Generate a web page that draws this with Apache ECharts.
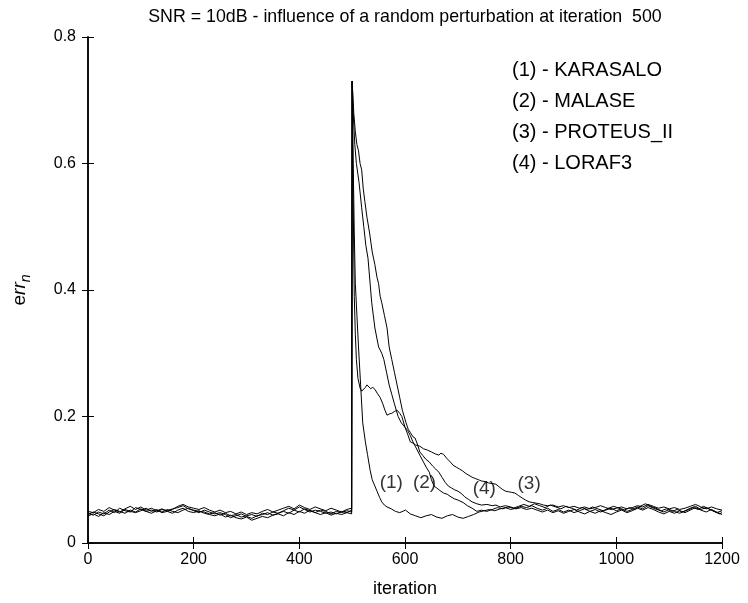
<!DOCTYPE html>
<html>
<head>
<meta charset="utf-8">
<script src="https://cdn.jsdelivr.net/npm/echarts@6/dist/echarts.min.js"></script>
<style>html,body{margin:0;padding:0;background:#fff}#c{width:748px;height:603px}</style>
</head>
<body>
<div id="c"></div>
<script>
const titleText = 'SNR = 10dB - influence of a random perturbation at iteration  500';
const seriesNames = ['(1) - KARASALO', '(2) - MALASE', '(3) - PROTEUS_II', '(4) - LORAF3'];
const xTicks = [0, 200, 400, 600, 800, 1000, 1200];
const yTicks = [0, 0.2, 0.4, 0.6, 0.8];

const baseIter = [0,10,20,30,40,50,60,70,80,90,100,110,120,130,140,150,160,170,180,190,200,210,220,230,240,250,260,270,280,290,300,310,320,330,340,350,360,370,380,390,400,410,420,430,440,450,460,470,480,490,499];

const karasaloBase = [0.047,0.044,0.049,0.046,0.052,0.048,0.055,0.051,0.049,0.056,0.053,0.05,0.052,0.049,0.053,0.051,0.054,0.056,0.059,0.054,0.052,0.05,0.049,0.046,0.048,0.044,0.047,0.043,0.045,0.041,0.043,0.045,0.042,0.047,0.045,0.049,0.047,0.051,0.055,0.052,0.057,0.053,0.049,0.052,0.05,0.047,0.049,0.046,0.05,0.048,0.052];
const malaseBase = [0.043,0.046,0.042,0.048,0.045,0.05,0.047,0.053,0.05,0.048,0.051,0.055,0.05,0.053,0.048,0.05,0.047,0.052,0.055,0.05,0.048,0.051,0.047,0.045,0.043,0.046,0.041,0.044,0.04,0.038,0.041,0.036,0.039,0.042,0.04,0.044,0.046,0.043,0.048,0.045,0.05,0.047,0.052,0.048,0.045,0.048,0.044,0.047,0.045,0.048,0.046];
const proteusBase = [0.05,0.048,0.053,0.05,0.056,0.052,0.049,0.054,0.058,0.053,0.057,0.052,0.055,0.051,0.054,0.05,0.053,0.058,0.061,0.057,0.055,0.053,0.056,0.052,0.049,0.052,0.048,0.05,0.046,0.049,0.045,0.048,0.046,0.05,0.053,0.049,0.052,0.055,0.058,0.054,0.06,0.056,0.053,0.057,0.054,0.051,0.055,0.052,0.049,0.053,0.055];
const loraf3Base = [0.045,0.049,0.046,0.043,0.049,0.053,0.05,0.047,0.052,0.049,0.054,0.05,0.047,0.051,0.049,0.053,0.05,0.048,0.052,0.055,0.051,0.048,0.052,0.049,0.046,0.048,0.045,0.04,0.043,0.046,0.042,0.039,0.043,0.045,0.048,0.044,0.047,0.05,0.047,0.052,0.049,0.054,0.051,0.048,0.052,0.05,0.046,0.05,0.048,0.051,0.049];

const karasaloAfter = [[500,0.73],[502,0.6],[504,0.49],[506,0.41],[509,0.36],[512,0.31],[516,0.25],[520,0.19],[525,0.16],[529,0.14],[534,0.115],[538,0.1],[543,0.09],[547,0.082],[552,0.072],[556,0.065],[561,0.06],[566,0.057],[574,0.054],[582,0.05],[590,0.048],[601,0.052],[610,0.046],[620,0.043],[630,0.04],[640,0.043],[650,0.045],[660,0.041],[670,0.039],[680,0.043],[690,0.045],[700,0.041],[710,0.039],[720,0.042],[730,0.045],[740,0.049],[750,0.051],[760,0.053],[770,0.051],[780,0.054],[790,0.056],[800,0.053],[810,0.055],[820,0.058],[830,0.056],[840,0.059],[850,0.055],[860,0.052],[870,0.055],[880,0.05],[890,0.053],[900,0.049],[910,0.052],[920,0.048],[930,0.051],[940,0.054],[950,0.05],[960,0.053],[970,0.049],[980,0.052],[990,0.055],[1000,0.051],[1010,0.054],[1020,0.05],[1030,0.053],[1040,0.057],[1050,0.054],[1060,0.059],[1070,0.055],[1080,0.052],[1090,0.049],[1100,0.053],[1110,0.05],[1120,0.047],[1130,0.051],[1140,0.055],[1150,0.058],[1160,0.053],[1170,0.056],[1180,0.052],[1190,0.048],[1200,0.051]];
const malaseAfter = [[500,0.73],[502,0.68],[505,0.63],[508,0.6],[513,0.57],[518,0.53],[522,0.5],[526,0.47],[530,0.45],[532,0.43],[537,0.38],[543,0.34],[550,0.31],[556,0.3],[560,0.29],[565,0.27],[570,0.25],[575,0.235],[580,0.22],[587,0.2],[593,0.19],[600,0.183],[605,0.178],[610,0.17],[615,0.16],[620,0.152],[628,0.139],[635,0.128],[640,0.12],[646,0.112],[650,0.1],[655,0.09],[660,0.087],[666,0.083],[673,0.079],[680,0.077],[687,0.073],[693,0.07],[700,0.068],[710,0.064],[718,0.059],[727,0.055],[736,0.05],[745,0.052],[755,0.05],[765,0.053],[775,0.056],[785,0.054],[795,0.057],[805,0.055],[815,0.058],[825,0.061],[835,0.058],[845,0.062],[855,0.059],[865,0.056],[875,0.06],[885,0.057],[895,0.054],[905,0.058],[915,0.055],[925,0.052],[935,0.056],[945,0.053],[955,0.057],[965,0.054],[975,0.051],[985,0.055],[995,0.058],[1005,0.055],[1015,0.052],[1025,0.056],[1035,0.053],[1045,0.058],[1055,0.062],[1065,0.058],[1075,0.055],[1085,0.051],[1095,0.054],[1105,0.05],[1115,0.053],[1125,0.049],[1135,0.052],[1145,0.056],[1155,0.053],[1165,0.058],[1175,0.054],[1185,0.05],[1195,0.046],[1200,0.048]];
const proteusAfter = [[500,0.73],[501,0.62],[502,0.54],[503,0.46],[504,0.39],[506,0.33],[508,0.29],[511,0.26],[515,0.245],[518,0.24],[521,0.242],[525,0.246],[528,0.25],[531,0.248],[535,0.244],[539,0.246],[543,0.243],[548,0.236],[553,0.23],[558,0.22],[562,0.21],[566,0.202],[570,0.204],[575,0.205],[580,0.208],[585,0.21],[590,0.205],[594,0.2],[600,0.183],[605,0.172],[610,0.16],[615,0.158],[620,0.155],[628,0.153],[635,0.149],[642,0.147],[650,0.144],[657,0.141],[664,0.139],[668,0.142],[673,0.14],[680,0.133],[686,0.128],[691,0.123],[697,0.12],[703,0.117],[709,0.114],[715,0.11],[721,0.107],[727,0.104],[733,0.102],[739,0.1],[745,0.098],[752,0.097],[758,0.095],[765,0.094],[772,0.093],[778,0.089],[784,0.085],[790,0.082],[796,0.081],[802,0.08],[808,0.079],[815,0.075],[822,0.071],[828,0.068],[835,0.065],[842,0.064],[848,0.063],[855,0.062],[862,0.06],[870,0.059],[880,0.06],[890,0.057],[900,0.059],[910,0.056],[920,0.058],[930,0.055],[940,0.057],[950,0.054],[960,0.056],[970,0.059],[980,0.056],[990,0.053],[1000,0.055],[1010,0.057],[1020,0.054],[1030,0.056],[1040,0.059],[1050,0.057],[1060,0.061],[1070,0.058],[1080,0.055],[1090,0.057],[1100,0.054],[1110,0.056],[1120,0.053],[1130,0.055],[1140,0.058],[1150,0.061],[1160,0.057],[1170,0.054],[1180,0.057],[1190,0.054],[1200,0.052]];
const loraf3After = [[500,0.73],[503,0.68],[506,0.65],[509,0.63],[512,0.62],[515,0.6],[518,0.59],[521,0.56],[524,0.54],[528,0.515],[533,0.49],[538,0.46],[543,0.44],[547,0.42],[550,0.41],[553,0.39],[556,0.38],[561,0.36],[566,0.34],[570,0.31],[575,0.29],[580,0.27],[585,0.25],[590,0.23],[595,0.21],[602,0.19],[606,0.18],[610,0.175],[615,0.168],[619,0.166],[624,0.155],[628,0.144],[634,0.138],[640,0.132],[646,0.128],[652,0.122],[658,0.117],[664,0.112],[670,0.104],[676,0.096],[682,0.09],[688,0.087],[694,0.084],[700,0.082],[707,0.078],[713,0.073],[720,0.069],[727,0.065],[736,0.062],[745,0.06],[755,0.061],[765,0.059],[772,0.06],[780,0.057],[790,0.059],[800,0.057],[810,0.054],[820,0.056],[830,0.053],[840,0.055],[850,0.052],[860,0.049],[870,0.052],[880,0.048],[890,0.051],[900,0.047],[910,0.05],[920,0.053],[930,0.049],[940,0.046],[950,0.05],[960,0.047],[970,0.051],[980,0.048],[990,0.045],[1000,0.049],[1010,0.052],[1020,0.048],[1030,0.051],[1040,0.055],[1050,0.052],[1060,0.056],[1070,0.053],[1080,0.049],[1090,0.046],[1100,0.05],[1110,0.047],[1120,0.051],[1130,0.048],[1140,0.052],[1150,0.056],[1160,0.052],[1170,0.049],[1180,0.053],[1190,0.049],[1200,0.045]];

const curveLabels = [['(1)', 574, 0.096], ['(2)', 637, 0.095], ['(4)', 750, 0.085], ['(3)', 835, 0.094]];

function build(base, after) {
  return baseIter.map((it, i) => [it, base[i]]).concat(after);
}
const allData = [
  build(karasaloBase, karasaloAfter),
  build(malaseBase, malaseAfter),
  build(proteusBase, proteusAfter),
  build(loraf3Base, loraf3After)
];

const FONT = 'Liberation Sans, Arial, sans-serif';
const chart = echarts.init(document.getElementById('c'), null, {renderer: 'canvas'});

const axisCommon = {
  axisLine: {show: true, lineStyle: {color: '#000', width: 1.5}},
  axisTick: {show: true, inside: true, length: 6, lineStyle: {color: '#000', width: 1}},
  splitLine: {show: false}
};

const series = allData.map((d, i) => ({
  type: 'line',
  name: seriesNames[i],
  data: d,
  showSymbol: false,
  symbol: 'none',
  lineStyle: {color: '#000', width: 1},
  animation: false,
  z: 3
}));
series.push({
  type: 'scatter',
  symbolSize: 0,
  data: curveLabels.map(l => ({name: l[0], value: [l[1], l[2]]})),
  label: {show: true, position: 'inside', formatter: p => p.name, color: '#000', fontFamily: FONT, fontSize: 19},
  animation: false,
  z: 5
});

const legendGraphics = seriesNames.map((t, i) => ({
  type: 'text', x: 512, y: 70 + i * 31,
  style: {text: t, fill: '#000', font: '20px ' + FONT, textVerticalAlign: 'middle', verticalAlign: 'middle'}
}));

chart.setOption({
  animation: false,
  backgroundColor: '#fff',
  grid: {left: 88, right: 26, top: 37, bottom: 60, containLabel: false},
  xAxis: [
    Object.assign({
      type: 'value', min: 0, max: 1200, interval: 200, position: 'bottom',
      name: 'iteration', nameLocation: 'middle', nameGap: 37,
      nameTextStyle: {color: '#000', fontFamily: FONT, fontSize: 18},
      axisLabel: {color: '#000', fontFamily: FONT, fontSize: 16, margin: 9,
        formatter: v => xTicks.indexOf(v) >= 0 ? String(v) : ''}
    }, axisCommon),
    Object.assign({
      type: 'value', min: 0, max: 1200, interval: 200, position: 'top',
      axisLabel: {show: false}
    }, axisCommon)
  ],
  yAxis: [
    Object.assign({
      type: 'value', min: 0, max: 0.8, interval: 0.2, position: 'left',
      name: '{a|e}{b|rr}{c|n}', nameLocation: 'middle', nameGap: 55, nameRotate: 90,
      nameTextStyle: {color: '#000', fontFamily: FONT, fontSize: 19,
        rich: {
          a: {fontFamily: FONT, fontSize: 19, color: '#000', lineHeight: 26, verticalAlign: 'middle'},
          b: {fontFamily: FONT, fontSize: 19, fontStyle: 'italic', color: '#000', lineHeight: 26, verticalAlign: 'middle'},
          c: {fontFamily: FONT, fontSize: 14, fontStyle: 'italic', color: '#000', lineHeight: 26, verticalAlign: 'bottom'}
        }},
      axisLabel: {color: '#000', fontFamily: FONT, fontSize: 16, margin: 12,
        formatter: v => { const t = yTicks.find(y => Math.abs(y - v) < 1e-9); return t === undefined ? '' : (t === 0 ? '0' : t.toFixed(1)); }}
    }, axisCommon),
    Object.assign({
      type: 'value', min: 0, max: 0.8, interval: 0.2, position: 'right',
      axisLabel: {show: false}
    }, axisCommon)
  ],
  graphic: [
    {type: 'text', x: 405, y: 17, style: {text: titleText, fill: '#000', font: '17.8px ' + FONT, textAlign: 'center', align: 'center', textVerticalAlign: 'middle', verticalAlign: 'middle'}}
  ].concat(legendGraphics),
  series: series
});
</script>
</body>
</html>
